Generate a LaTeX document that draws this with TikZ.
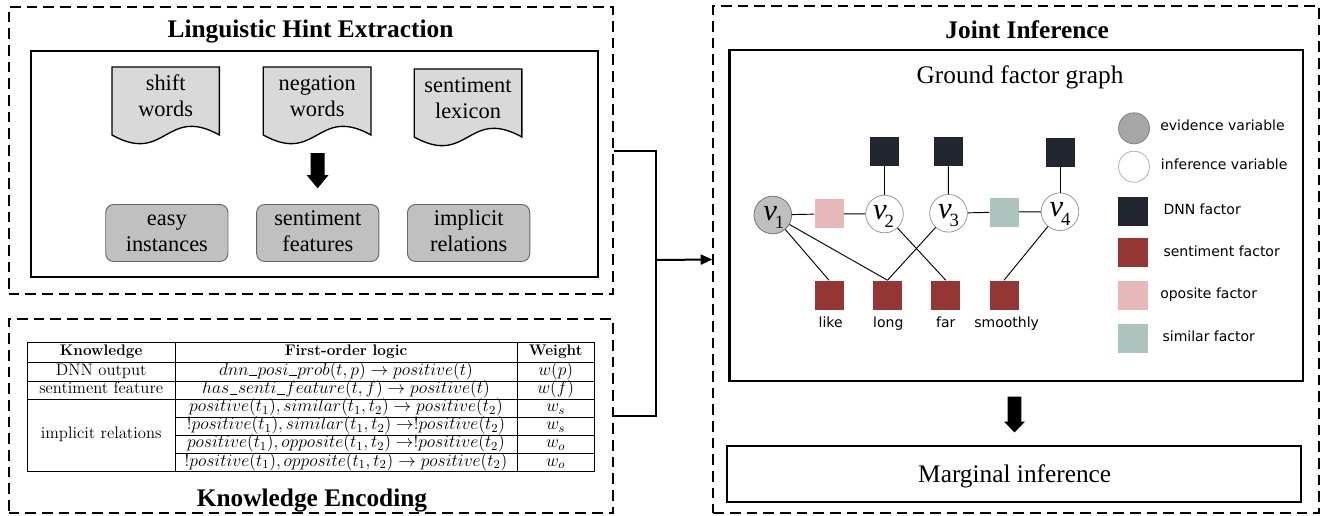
\RequirePackage{fix-cm}
\documentclass[tikz,border=0pt]{standalone}
\usepackage{fontspec}
\newfontfamily\timesf{Liberation Serif}
\newfontfamily\dejavu{DejaVu Sans}
\usetikzlibrary{fit,arrows.meta,calc}
\definecolor{dnnc}{RGB}{33,37,48}
\definecolor{sentc}{RGB}{148,54,52}
\definecolor{oppc}{RGB}{230,185,184}
\definecolor{simc}{RGB}{173,195,190}
\definecolor{docc}{RGB}{217,217,217}
\definecolor{rbc}{RGB}{192,192,192}
\definecolor{evc}{RGB}{191,191,191}
\definecolor{evlc}{RGB}{166,166,166}
\newcommand\vsym[1]{{\timesf\itshape\fontsize{23}{23}\selectfont v}\kern-1.6pt\raisebox{-6.3pt}{\timesf\fontsize{14}{14}\selectfont #1}}
\newcommand\mus{\mbox{\kern0.04em\rule[-0.06em]{0.42em}{0.045em}\kern0.04em}}
\begin{document}
\begin{tikzpicture}[x=0.75pt,y=-0.75pt,
  dashbox/.style={draw, line width=1.5pt, dash pattern=on 8pt off 4.5pt, inner sep=0pt},
  solidbox/.style={draw, line width=1.6pt, inner sep=0pt},
  title/.style={font=\timesf\bfseries\fontsize{19}{22}\selectfont, anchor=base, inner sep=0pt},
  big/.style={font=\timesf\fontsize{19}{22}\selectfont, anchor=base, inner sep=0pt},
  doctext/.style={font=\timesf\fontsize{16.8}{20}\selectfont, align=center, inner sep=0pt},
  docshape/.style={draw, fill=docc, line width=1pt},
  rbox/.style={draw=black!60, fill=rbc, rounded corners=6pt, line width=0.7pt,
    minimum width=91.7pt, minimum height=42.75pt, align=center, inner sep=0pt,
    font=\timesf\fontsize{16.8}{20}\selectfont},
  conn/.style={line width=1.5pt},
  tline/.style={line width=0.6pt},
  tcell/.style={inner sep=0pt, text height=0.75em, text depth=0.25em, font=\fontsize{12.5}{14}\selectfont},
  tmath/.style={tcell, font=\fontsize{13.2}{15}\selectfont},
  thead/.style={tcell, font=\bfseries\fontsize{11.5}{13}\selectfont},
  var/.style={circle, draw=black!40, line width=0.6pt, fill=white, minimum size=28.2pt, inner sep=0pt},
  evar/.style={var, fill=evc, draw=black!55},
  fac/.style={rectangle, minimum size=21.75pt, inner sep=0pt},
  edge/.style={line width=0.7pt},
  vlab/.style={anchor=base, inner sep=0pt},
  flab/.style={font=\dejavu\fontsize{10.5}{12}\selectfont, anchor=base, inner sep=0pt},
  leg/.style={font=\dejavu\fontsize{10.5}{12}\selectfont, anchor=mid west, inner sep=0pt},
  lcirc/.style={circle, minimum size=23.25pt, inner sep=0pt, line width=0.6pt},
  lsq/.style={rectangle, minimum size=22pt, inner sep=0pt}
]
\useasboundingbox (0,0) rectangle (1331,515);
\fill[white] (0,0) rectangle (1331,515);

% ---------- Linguistic Hint Extraction ----------
\node[dashbox, fit={(8.5,7) (612.7,294)}] (lhe) {};
\node[title] (lhet) at (310.5,37.3) {Linguistic Hint Extraction};
\node[solidbox, fit={(31,51) (598,277)}] (lhei) {};

\draw[docshape] (112,67) -- (219.4,67) -- (219.4,135) .. controls (165.7,105) and (165.7,165) .. (112,135) -- cycle;
\draw[docshape] (263.3,67) -- (371,67) -- (371,135) .. controls (317.2,105) and (317.2,165) .. (263.3,135) -- cycle;
\draw[docshape] (414.2,69) -- (521.9,69) -- (521.9,137) .. controls (468,107) and (468,167) .. (414.2,137) -- cycle;
\node[doctext] (doc1) at (165.7,98.3) {\strut shift\\\strut words};
\node[doctext] (doc2) at (317.2,98.3) {\strut negation\\\strut words};
\node[doctext] (doc3) at (468,100) {\strut sentiment\\\strut lexicon};

\fill (310.6,153) -- (324.6,153) -- (324.6,175) -- (328.6,175) -- (317.6,188.3) -- (306.6,175) -- (310.6,175) -- cycle;

\node[rbox] (easy) at (166.85,233) {\strut easy\\\strut instances};
\node[rbox] (sfeat) at (317.8,233) {\strut sentiment\\\strut features};
\node[rbox] (impl) at (468.65,233) {\strut implicit\\\strut relations};

% ---------- Knowledge Encoding ----------
\node[dashbox, fit={(8.5,319) (612.7,513)}] (ke) {};
\node[title] (ket) at (312,506) {Knowledge Encoding};

\draw[tline] (27.3,342.7) rectangle (594.3,471.7);
\draw[tline] (175,342.7) -- (175,471.7);
\draw[tline] (517,342.7) -- (517,471.7);
\draw[tline] (27.3,362.3) -- (594.3,362.3);
\draw[tline] (27.3,381.3) -- (594.3,381.3);
\draw[tline] (27.3,399.3) -- (594.3,399.3);
\draw[tline] (175,417.4) -- (594.3,417.4);
\draw[tline] (175,435.5) -- (594.3,435.5);
\draw[tline] (175,453.6) -- (594.3,453.6);

\node[thead] (h1) at (101.2,352.5) {Knowledge};
\node[thead] (h2) at (346,352.5) {First-order logic};
\node[thead] (h3) at (555.7,352.5) {Weight};
\node[tcell] (c11) at (101.2,371.8) {DNN output};
\node[tcell] (c21) at (101.2,390.3) {sentiment feature};
\node[tcell] (c31) at (101.2,435.5) {implicit relations};
\node[tmath] (c12) at (346,371.8) {$dnn\mus posi\mus prob(t,p) \rightarrow positive(t)$};
\node[tmath] (c22) at (346,390.3) {$has\mus senti\mus feature(t,f) \rightarrow positive(t)$};
\node[tmath] (c32) at (346,408.4) {$positive(t_1), similar(t_1,t_2) \rightarrow positive(t_2)$};
\node[tmath] (c42) at (346,426.5) {$!positive(t_1), similar(t_1,t_2) \rightarrow !positive(t_2)$};
\node[tmath] (c52) at (346,444.6) {$positive(t_1), opposite(t_1,t_2) \rightarrow !positive(t_2)$};
\node[tmath] (c62) at (346,462.7) {$!positive(t_1), opposite(t_1,t_2) \rightarrow positive(t_2)$};
\node[tmath] (c13) at (555.7,371.8) {$w(p)$};
\node[tmath] (c23) at (555.7,390.3) {$w(f)$};
\node[tmath] (c33) at (555.7,408.4) {$w_s$};
\node[tmath] (c43) at (555.7,426.5) {$w_s$};
\node[tmath] (c53) at (555.7,444.6) {$w_o$};
\node[tmath] (c63) at (555.7,462.7) {$w_o$};

% ---------- Joint Inference ----------
\node[dashbox, fit={(713.3,6) (1319,513)}] (ji) {};
\node[title] (jit) at (1027.2,38.3) {Joint Inference};
\node[solidbox, fit={(729.5,50) (1303,381)}] (fg) {};
\node[big] (fgt) at (1020,83.3) {Ground factor graph};

% factor graph
\node[evar] (v1) at (772.8,215) {};
\node[var] (v2) at (884.5,214) {};
\node[var] (v3) at (948.5,213.3) {};
\node[var] (v4) at (1060,211.7) {};
\node[fac, fill=oppc] (opp) at (829,213.8) {};
\node[fac, fill=simc] (sim) at (1004,212) {};
\node[fac, fill=dnnc] (d1) at (884.5,151.7) {};
\node[fac, fill=dnnc] (d2) at (948.3,151.7) {};
\node[fac, fill=dnnc] (d3) at (1060,152) {};
\node[fac, fill=sentc] (like) at (829,295) {};
\node[fac, fill=sentc] (long) at (887.5,295) {};
\node[fac, fill=sentc] (far) at (945.8,295) {};
\node[fac, fill=sentc] (smooth) at (1004,295) {};

\draw[edge] (v1) -- (opp);
\draw[edge] (opp) -- (v2);
\draw[edge] (v3) -- (sim);
\draw[edge] (sim) -- (v4);
\draw[edge] (d1) -- (v2);
\draw[edge] (d2) -- (v3);
\draw[edge] (d3) -- (v4);
\draw[edge] (v1) -- (like.north);
\draw[edge] (v1) -- (long.north);
\draw[edge] (v3) -- (long.north);
\draw[edge] (v2) -- (far.north);
\draw[edge] (v4) -- (smooth.north);

\node[vlab] (v1l) at ($(v1)+(1,5.2)$) {\vsym{1}};
\node[vlab] (v2l) at ($(v2)+(-1,5.2)$) {\vsym{2}};
\node[vlab] (v3l) at ($(v3)+(0,5.2)$) {\vsym{3}};
\node[vlab] (v4l) at ($(v4)+(0,5.2)$) {\vsym{4}};

\node[flab] (likel) at (830.7,327.3) {like};
\node[flab] (longl) at (888.3,327.3) {long};
\node[flab] (farl) at (945.7,327.3) {far};
\node[flab] (smoothl) at (1006.7,327.3) {smoothly};

% legend
\node[lcirc, fill=evlc, draw=black!50] (le1) at (1134,128.3) {};
\node[lcirc, fill=white, draw=black!30] (le2) at (1134,166.7) {};
\node[lsq, fill=dnnc] (le3) at (1133,211.3) {};
\node[lsq, fill=sentc] (le4) at (1133,252.8) {};
\node[lsq, fill=oppc] (le5) at (1133,295.5) {};
\node[lsq, fill=simc] (le6) at (1133,338.3) {};
\node[leg] (lt1) at (1160,127.8) {evidence variable};
\node[leg] (lt2) at (1160.7,166.2) {inference variable};
\node[leg] (lt3) at (1163.3,212) {DNN factor};
\node[leg] (lt4) at (1163.3,253.5) {sentiment factor};
\node[leg] (lt5) at (1160,296) {oposite factor};
\node[leg] (lt6) at (1162.3,338.8) {similar factor};

\fill (1007.7,396.7) -- (1021.3,396.7) -- (1021.3,421.7) -- (1025,421.7) -- (1014.5,432.3) -- (1004,421.7) -- (1007.7,421.7) -- cycle;

\node[solidbox, fit={(727.3,446) (1301.2,502)}] (mi) {};
\node[big] (mit) at (1014.7,482.3) {Marginal inference};

% ---------- connectors ----------
\coordinate (jn) at (656,260);
\draw[conn] (lhe.east) -| (jn) |- (ke.east);
\draw[conn, -{Triangle[length=8.7pt,width=7.5pt]}] (jn) -- (ji.west);
\end{tikzpicture}
\end{document}
